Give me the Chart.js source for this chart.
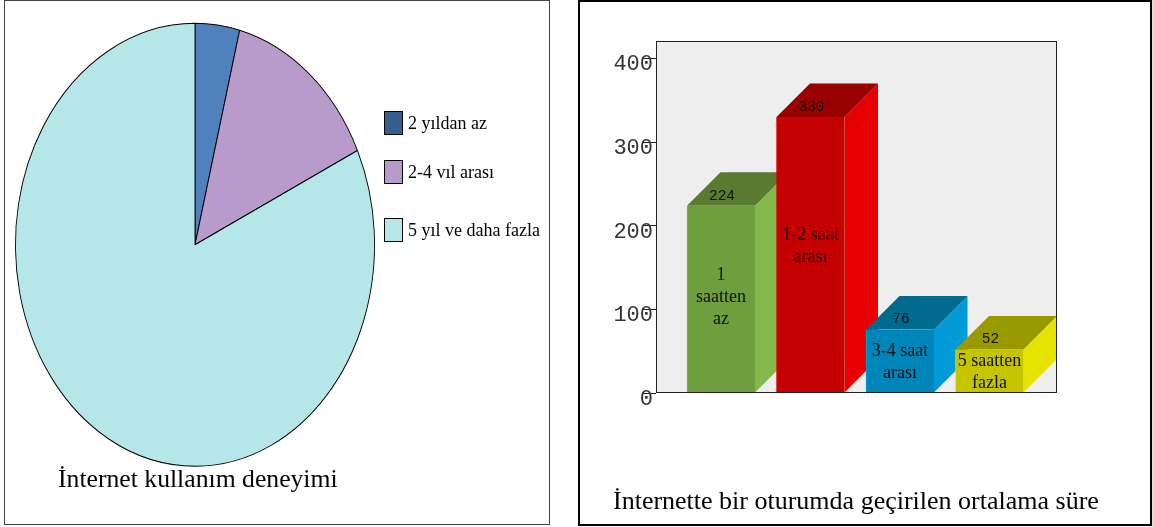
<!DOCTYPE html>
<html>
<head>
<meta charset="utf-8">
<script src="https://cdn.jsdelivr.net/npm/chart.js@4"></script>
<style>
  html, body { margin: 0; padding: 0; background: #fff; overflow: hidden; }
  #page { position: relative; width: 1154px; height: 527px; }
  .panel { position: absolute; box-sizing: border-box; background: #fff; }
  #panelLeft { left: 4px; top: 0; width: 546px; height: 525px; border: 1px solid #444; }
  #panelRight { left: 578px; top: 0; width: 574px; height: 526px; border: 2px solid #000; }
  #edge { position: absolute; left: 1152px; top: 0; width: 2px; height: 527px; background: #ddd; }
  canvas { position: absolute; left: 0; top: 0; }
</style>
</head>
<body>
<div id="page">
  <div class="panel" id="panelLeft"></div>
  <div class="panel" id="panelRight"></div>
  <div id="edge"></div>
  <canvas id="pie" width="578" height="527" style="width:578px;height:527px"></canvas>
  <canvas id="bars" width="574" height="527" style="left:578px;width:574px;height:527px"></canvas>
</div>
<script>
// Internet experience (share of respondents)
const experienceLabels = ['2 yıldan az', '2-4 vıl arası', '5 yıl ve daha fazla'];
const experienceValues = [4, 14, 82];
const experienceColors = ['#4f81bd', '#b89bca', '#b5e7e8'];
const experienceKeyColors = ['#365f91', '#b89bca', '#b5e7e8'];
const experienceTitle = 'İnternet kullanım deneyimi';

// Average time spent per session
const sessionLabels = [['1', 'saatten', 'az'], ['1-2 saat', 'arası'], ['3-4 saat', 'arası'], ['5 saatten', 'fazla']];
const sessionValues = [224, 330, 76, 52];
const sessionFront = ['#6f9e3f', '#c40000', '#0085b8', '#c4c400'];
const sessionSide = ['#83b84a', '#e60000', '#009bd6', '#e4e400'];
const sessionTop = ['#5a7a30', '#990000', '#006b8f', '#999900'];
const sessionTitle = 'İnternette bir oturumda geçirilen ortalama süre';

const SERIF = '"Liberation Serif", serif';
const MONO = '"Liberation Mono", monospace';

// Squeezes the round pie into the tall ellipse around its centre.
const ellipsePlugin = {
  id: 'ellipse',
  beforeDatasetsDraw(chart, args, opts) {
    const a = chart.chartArea, cx = (a.left + a.right) / 2, cy = (a.top + a.bottom) / 2;
    const ctx = chart.ctx;
    ctx.save();
    ctx.translate(opts.centerX, cy);
    ctx.scale(opts.squeeze, 1);
    ctx.translate(-cx, -cy);
  },
  afterDatasetsDraw(chart) { chart.ctx.restore(); }
};

// Key and caption of the pie panel.
const pieNotesPlugin = {
  id: 'pieNotes',
  afterDraw(chart) {
    const ctx = chart.ctx;
    const rows = [111, 160, 218];
    ctx.save();
    ctx.textBaseline = 'middle';
    ctx.textAlign = 'left';
    ctx.font = '18px ' + SERIF;
    experienceLabels.forEach((label, i) => {
      ctx.fillStyle = experienceKeyColors[i];
      ctx.fillRect(384, rows[i], 19, 24);
      ctx.strokeStyle = '#000';
      ctx.lineWidth = 1;
      ctx.strokeRect(384.5, rows[i] + 0.5, 18, 23);
      ctx.fillStyle = '#000';
      ctx.fillText(label, 408, rows[i] + 13);
    });
    ctx.font = '25.7px ' + SERIF;
    ctx.textBaseline = 'alphabetic';
    ctx.fillText(experienceTitle, 58, 487);
    ctx.restore();
  }
};

new Chart(document.getElementById('pie'), {
  type: 'pie',
  data: {
    labels: experienceLabels,
    datasets: [{
      data: experienceValues,
      backgroundColor: experienceColors,
      borderColor: '#000',
      borderWidth: 1.1,
      hoverOffset: 0,
      clip: false
    }]
  },
  options: {
    responsive: false,
    animation: false,
    events: [],
    layout: { padding: { left: 0, right: 134, top: 22.5, bottom: 60 } },
    plugins: {
      legend: { display: false },
      tooltip: { enabled: false },
      ellipse: { centerX: 195, squeeze: 180 / 222 }
    }
  },
  plugins: [ellipsePlugin, pieNotesPlugin]
});

// Paints each bar's side and top faces; the front is the library's own bar.
const depthPlugin = {
  id: 'depth',
  beforeDatasetsDraw(chart, args, opts) {
    const ctx = chart.ctx, d = opts.depth;
    chart.getDatasetMeta(0).data.forEach((bar, i) => {
      const l = bar.x - bar.width / 2, r = bar.x + bar.width / 2, t = bar.y, b = bar.base;
      ctx.fillStyle = sessionSide[i];
      ctx.beginPath();
      ctx.moveTo(r, t); ctx.lineTo(r + d, t - d); ctx.lineTo(r + d, b - d); ctx.lineTo(r, b);
      ctx.closePath(); ctx.fill();
      ctx.fillStyle = sessionTop[i];
      ctx.beginPath();
      ctx.moveTo(l, t); ctx.lineTo(l + d, t - d); ctx.lineTo(r + d, t - d); ctx.lineTo(r, t);
      ctx.closePath(); ctx.fill();
    });
  },
  afterDatasetsDraw(chart, args, opts) {
    const ctx = chart.ctx;
    ctx.save();
    ctx.fillStyle = '#111';
    ctx.textAlign = 'center';
    ctx.textBaseline = 'middle';
    chart.getDatasetMeta(0).data.forEach((bar, i) => {
      ctx.font = '14.5px ' + MONO;
      ctx.fillText(String(sessionValues[i]), bar.x + 1, bar.y - 10);
      ctx.font = '18px ' + SERIF;
      const lines = sessionLabels[i];
      const mid = (bar.y + bar.base) / 2 - opts.lift[i];
      lines.forEach((line, k) => {
        ctx.fillText(line, bar.x, mid + (k - (lines.length - 1) / 2) * 22);
      });
    });
    ctx.restore();
  }
};

// Plot background, axis frame and caption of the bar panel.
const framePlugin = {
  id: 'frame',
  beforeDraw(chart) {
    const a = chart.chartArea, ctx = chart.ctx;
    ctx.save();
    ctx.fillStyle = '#eeeeee';
    ctx.fillRect(a.left, a.top, a.width, a.height);
    ctx.restore();
  },
  afterDatasetsDraw(chart) {
    const a = chart.chartArea, ctx = chart.ctx;
    ctx.save();
    ctx.strokeStyle = '#222';
    ctx.lineWidth = 1;
    ctx.strokeRect(a.left + 0.5, a.top + 0.5, a.width, a.bottom - a.top - 1);
    ctx.font = '26px ' + SERIF;
    ctx.fillStyle = '#000';
    ctx.textAlign = 'left';
    ctx.fillText(sessionTitle, 35, 509);
    ctx.restore();
  }
};

new Chart(document.getElementById('bars'), {
  type: 'bar',
  data: {
    datasets: [{
      data: sessionValues.map((v, i) => ({ x: i, y: v })),
      backgroundColor: sessionFront,
      borderColor: sessionSide,
      borderWidth: { left: 1, bottom: 1, right: 0, top: 0 },
      barThickness: 68,
      clip: false
    }]
  },
  options: {
    responsive: false,
    animation: false,
    events: [],
    layout: { padding: { left: 0, right: 96, top: 41, bottom: 134 } },
    scales: {
      x: {
        type: 'linear',
        offset: false,
        min: -0.726,
        max: 3.743,
        ticks: { display: false },
        grid: { display: false, drawTicks: false, offset: false },
        border: { display: false }
      },
      y: {
        min: 0,
        max: 421,
        afterFit(scale) { scale.width = 78; },
        ticks: {
          stepSize: 100,
          includeBounds: false,
          color: '#333',
          padding: -10,
          labelOffset: 6,
          font: { family: MONO, size: 22 }
        },
        grid: { display: true, drawOnChartArea: false, drawTicks: true, tickLength: 13, tickColor: '#222', tickWidth: 1 },
        border: { display: false }
      }
    },
    plugins: {
      legend: { display: false },
      tooltip: { enabled: false },
      depth: { depth: 33.5, lift: [2, 9, -1, -1] }
    }
  },
  plugins: [framePlugin, depthPlugin]
});
</script>
</body>
</html>
